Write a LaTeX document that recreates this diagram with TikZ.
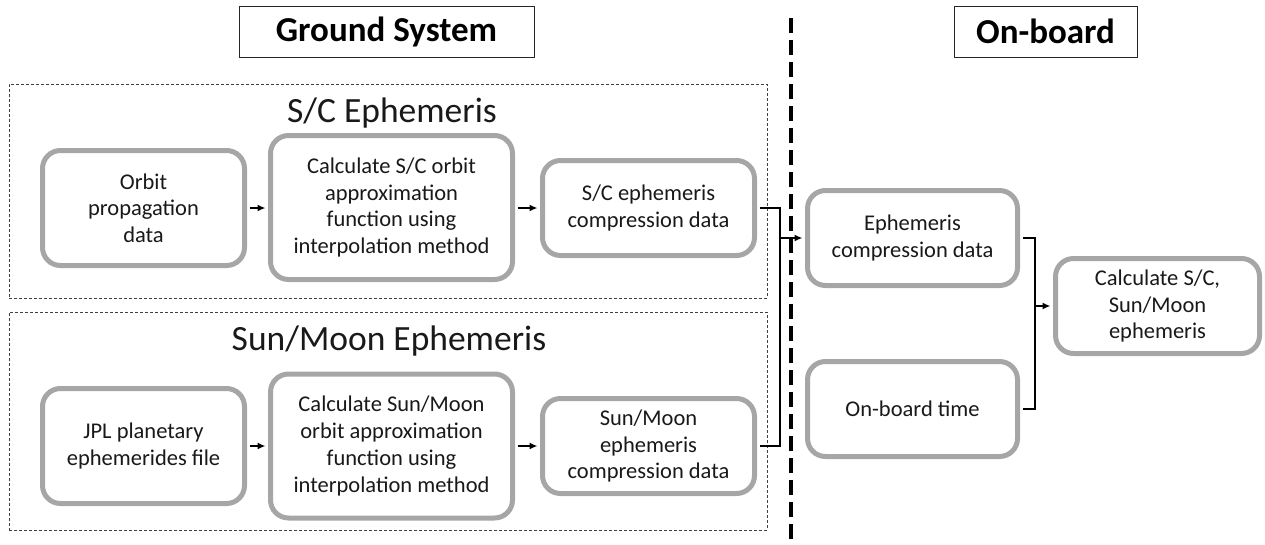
\documentclass[tikz,border=0pt]{standalone}
\usepackage{fontspec}
\setmainfont{Carlito}
\usetikzlibrary{arrows.meta}
\begin{document}
\begin{tikzpicture}[x=1pt,y=-1pt,
  rbox/.style={draw=black!35, line width=5pt, rounded corners=18pt, fill=white, align=center, text=black!90, font=\fontsize{22.5}{26.7}\selectfont, inner sep=0pt},
  hdr/.style={draw=black!85, line width=1pt, font=\fontsize{35}{40}\selectfont\bfseries, inner sep=0pt},
  grp/.style={draw=black!75, line width=0.8pt, dash pattern=on 3pt off 2pt},
  gtitle/.style={font=\fontsize{35.5}{40}\selectfont, inner sep=0pt, anchor=base, text=black!90},
  conn/.style={draw=black, line width=1.7pt, shorten <=2.5pt},
  arr/.style={conn, shorten >=2.5pt, -{Latex[length=8pt,width=7pt]}}
]
\useasboundingbox (0,0) rectangle (1265,544);
% headers
\node[hdr, minimum width=295pt, minimum height=51pt] (gs) at (386.5,31.5) {Ground System};
\node[hdr, minimum width=183pt, minimum height=51pt] (ob) at (1045.5,31.5) {On-board};
% dashed separator
\draw[line width=4pt, dash pattern=on 15pt off 7pt] (791,18) -- (791,544);
% groups
\node[grp, minimum width=758pt, minimum height=214pt] (g1) at (388,191) {};
\node[grp, minimum width=758pt, minimum height=218pt] (g2) at (388,421) {};
\node[gtitle] (t1) at (392,122) {S/C Ephemeris};
\node[gtitle] (t2) at (389,350) {Sun/Moon Ephemeris};
% boxes
\node[rbox, minimum width=202pt, minimum height=115pt] (orb) at (143.5,208) {Orbit\\propagation\\data};
\node[rbox, minimum width=242pt, minimum height=144pt] (calc1) at (391.5,207.5) {Calculate S/C orbit\\approximation\\function using\\interpolation method};
\node[rbox, minimum width=212pt, minimum height=95pt] (sc) at (648.5,208) {S/C ephemeris\\compression data};
\node[rbox, minimum width=202pt, minimum height=115pt] (jpl) at (143.5,446) {JPL planetary\\ephemerides file};
\node[rbox, minimum width=242pt, minimum height=144pt] (calc2) at (391.5,446) {Calculate Sun/Moon\\orbit approximation\\function using\\interpolation method};
\node[rbox, minimum width=212pt, minimum height=95pt] (sm) at (648.5,446) {Sun/Moon\\ephemeris\\compression data};
\node[rbox, minimum width=210pt, minimum height=95pt] (ecd) at (912.5,238) {Ephemeris\\compression data};
\node[rbox, minimum width=210pt, minimum height=95pt] (obt) at (912.5,409) {On-board time};
\node[rbox, minimum width=204pt, minimum height=95pt] (cse) at (1157.5,306) {Calculate S/C,\\Sun/Moon\\ephemeris};
% connectors
\draw[arr] (orb.east) -- (calc1.west |- orb.east);
\draw[arr] (calc1.east |- sc.east) -- (sc.west);
\draw[arr] (jpl.east) -- (calc2.west |- jpl.east);
\draw[arr] (calc2.east |- sm.east) -- (sm.west);
\coordinate (j1) at (780,0);
\draw[conn, shorten >=2.5pt, line join=miter] (sc.east) -- (sc.east -| j1) -- (sm.east -| j1) -- (sm.east);
\draw[arr, shorten <=0pt] (ecd.west -| j1) -- (ecd.west);
\coordinate (j2) at (1035,0);
\draw[conn, shorten >=2.5pt, line join=miter] (ecd.east) -- (ecd.east -| j2) -- (obt.east -| j2) -- (obt.east);
\draw[arr, shorten <=0pt] (cse.west -| j2) -- (cse.west);
\end{tikzpicture}
\end{document}
